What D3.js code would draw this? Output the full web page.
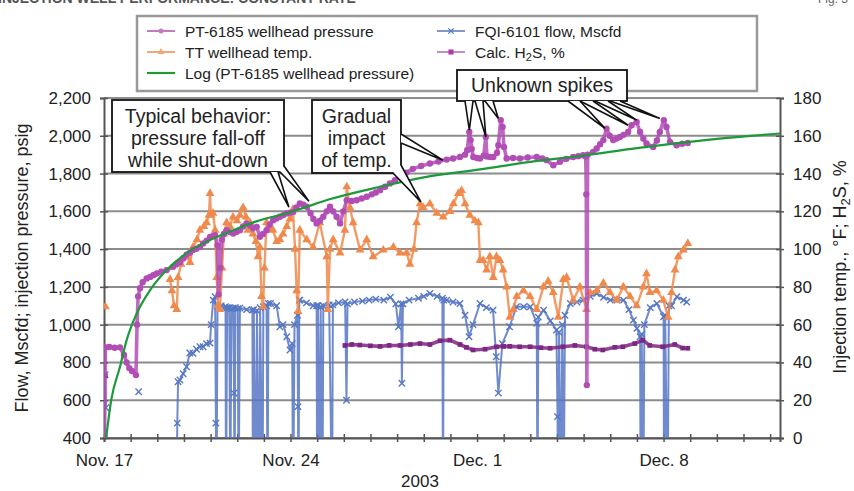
<!DOCTYPE html>
<html>
<head>
<meta charset="utf-8">
<script src="https://cdn.jsdelivr.net/npm/d3@7"></script>
<style>
  body { margin: 0; background: #fff; }
  svg { display: block; font-family: "Liberation Sans", Arial, sans-serif; }
</style>
</head>
<body>
<svg id="chart"></svg>
<script>
// all times are days after Nov. 17, 2003 00:00
// PT-6185 wellhead pressure, psig (left axis)
var pressure = [[0.02,410],[0.05,880],[0.2,882],[0.4,878],[0.6,880],[0.75,840],[0.85,800],[0.95,770],[1.05,755],[1.2,733],
  [1.24,1000],[1.28,1150],[1.35,1193],[1.45,1225],[1.6,1245],[1.73,1253],[1.85,1262],[1.98,1271],[2.15,1280],[2.35,1289],
  [2.59,1306],[2.7,1318],[2.85,1330],[2.98,1352],[3.1,1370],[3.22,1380],[3.34,1395],[3.47,1402],[3.6,1412],[3.72,1430],
  [3.85,1445],[3.98,1465],[4.1,1470],[4.17,1474],[4.26,1420],[4.3,1160],[4.36,1300],[4.42,1450],[4.5,1480],[4.6,1500],
  [4.72,1490],[4.85,1483],[4.98,1492],[5.1,1500],[5.22,1520],[5.35,1536],[5.48,1525],[5.6,1510],[5.73,1518],[5.85,1465],
  [5.97,1480],[6.1,1500],[6.22,1530],[6.35,1553],[6.47,1562],[6.6,1571],[6.73,1580],[6.86,1589],[6.98,1593],[7.1,1597],
  [7.22,1620],[7.35,1642],[7.48,1635],[7.61,1624],[7.75,1590],[7.86,1560],[7.98,1536],[8.1,1550],[8.23,1571],[8.36,1600],
  [8.48,1624],[8.6,1600],[8.73,1571],[8.86,1536],[8.98,1600],[9.11,1659],[9.3,1655],[9.48,1659],[9.67,1668],[9.86,1677],
  [10.05,1690],[10.2,1700],[10.36,1712],[10.55,1730],[10.73,1748],[10.92,1765],[11.11,1780],[11.35,1805],[11.59,1825],
  [11.9,1840],[12.23,1853],[12.55,1864],[12.86,1874],[13.1,1880],[13.36,1888],[13.55,1900],[13.63,1924],[13.71,2020],
  [13.76,1977],[13.8,1930],[13.86,1888],[14.0,1882],[14.11,1880],[14.25,1895],[14.33,1994],[14.37,1890],[14.5,1888],
  [14.61,1888],[14.75,1910],[14.8,1950],[14.89,2083],[14.96,2047],[15.01,1941],[15.11,1880],[15.35,1882],[15.61,1880],
  [15.9,1885],[16.24,1888],[16.45,1880],[16.61,1871],[16.86,1844],[17.11,1862],[17.35,1878],[17.61,1888],[17.8,1892],
  [17.98,1897],[18.08,1890],[18.1,1690],[18.12,680],[18.15,1900],[18.36,1915],[18.49,1933],[18.62,1955],[18.74,1977],
  [18.86,2038],[18.98,2000],[19.11,1977],[19.24,1985],[19.36,1994],[19.5,2005],[19.67,2020],[19.8,2056],[19.99,2073],
  [20.12,2020],[20.24,1985],[20.36,1959],[20.61,1941],[20.75,1975],[20.86,2020],[21.01,2083],[21.11,2047],[21.24,1968],
  [21.49,1950],[21.7,1958],[21.91,1962]];

// TT wellhead temp., deg F (right axis)
var temp = [[0.05,69.5],[0.3,null],
  [2.48,84],[2.55,78],[2.63,70],[2.73,68],[2.78,85],[2.89,92],[3.1,96],[3.23,93],[3.34,101],[3.49,105],[3.6,110],[3.75,112],
  [3.85,114],[3.94,118],[3.98,129.5],[4.01,118],[4.09,119],[4.17,110],[4.23,85],[4.28,70],[4.35,68],[4.43,90],[4.5,108],
  [4.6,114],[4.73,112],[4.84,117],[4.99,115],[5.1,118],[5.22,122],[5.33,117],[5.4,110],[5.48,114],[5.59,108],[5.7,104],
  [5.78,96],[5.85,101],[5.91,75],[5.97,69.5],[6.02,90],[6.1,114],[6.23,111],[6.34,110],[6.48,104],[6.6,105],[6.72,108],
  [6.86,112],[6.98,116],[7.09,121],[7.17,100],[7.23,78],[7.28,67],[7.35,110],[7.61,105],[7.85,101],[8.1,114],[8.36,96],
  [8.4,68],[8.48,100],[8.6,105],[8.86,98],[9.04,110],[9.11,133],[9.23,122],[9.35,114],[9.61,99.5],[9.86,105],[10.1,96],
  [10.48,99.5],[10.86,101],[11.11,98],[11.36,98],[11.48,92],[11.63,100],[11.73,114],[11.86,124],[11.98,122],[12.23,124],
  [12.49,119],[12.73,117],[12.98,120],[13.11,124],[13.3,129.5],[13.42,131],[13.55,124],[13.73,118],[13.92,115],[14.05,114],
  [14.11,94],[14.23,94],[14.36,89],[14.48,96],[14.61,85],[14.73,96],[14.86,94],[14.98,89],[15.11,80],[15.23,64],[15.36,68],
  [15.49,75],[15.74,78],[15.99,75],[16.24,68],[16.49,80],[16.67,83],[16.86,77],[17.05,64],[17.24,84],[17.36,85],[17.61,73],
  [17.86,80],[18.11,68],[18.24,77],[18.49,78],[18.74,82],[18.99,77],[19.24,73],[19.49,80],[19.74,75],[19.99,70],[20.24,80],
  [20.36,87],[20.49,77],[20.74,78],[20.99,73],[21.17,64],[21.3,77],[21.43,89],[21.55,96],[21.74,99.5],[21.91,103]];

// FQI-6101 flow, Mscfd (left axis); 0 = flow stopped
var flow = [[0.04,735],[0.07,560],[0.5,null],[1.3,645],[1.5,null],
  [2.72,0],[2.75,479],[2.78,698],[2.85,707],[2.97,740],[3.1,777],[3.22,850],[3.34,848],[3.47,870],[3.6,883],[3.72,883],
  [3.85,900],[3.98,902],[4.02,1000],[4.1,1130],[4.17,1148],[4.2,479],[4.22,0],[4.26,1100],[4.4,1100],[4.56,1095],[4.58,0],
  [4.62,1090],[4.7,1090],[4.74,0],[4.78,1085],[4.85,1088],[4.88,638],[4.9,0],[4.93,1090],[5.02,1085],[5.05,0],[5.1,1088],
  [5.35,1080],[5.57,1077],[5.59,0],[5.62,1080],[5.71,0],[5.74,1075],[5.83,0],[5.86,1090],[5.95,0],[5.98,1095],[6.1,1100],
  [6.14,0],[6.17,1112],[6.25,1112],[6.48,1100],[6.6,989],[6.72,1000],[6.86,936],[6.98,866],[7.06,900],[7.1,0],[7.15,1000],
  [7.26,1050],[7.28,566],[7.3,0],[7.33,1130],[7.35,1130],[7.6,1115],[7.85,1100],[7.98,1100],[8.0,0],[8.03,1100],[8.1,0],
  [8.13,1095],[8.2,0],[8.23,1100],[8.45,1105],[8.56,0],[8.59,1105],[8.8,1115],[9.05,1120],[9.1,600],[9.14,1110],[9.4,1120],
  [9.7,1125],[9.95,1130],[10.2,1135],[10.5,1130],[10.75,1145],[10.95,1110],[11.05,989],[11.15,1110],[11.18,690],[11.22,1110],
  [11.45,1130],[11.8,1140],[12.0,1150],[12.23,1165],[12.5,1150],[12.7,1140],[12.72,0],[12.75,1130],[12.86,1130],[13.1,1120],
  [13.36,1112],[13.55,1050],[13.7,936],[13.85,1000],[14.11,1112],[14.35,1090],[14.6,1077],[14.72,830],[14.8,638],[14.95,900],
  [15.22,989],[15.48,1095],[15.75,1095],[16.0,1095],[16.24,1007],[16.27,0],[16.3,1040],[16.5,1077],[16.75,1020],[16.98,971],
  [17.02,513],[17.05,0],[17.08,960],[17.15,0],[17.2,1000],[17.25,0],[17.3,1050],[17.5,1112],[17.75,1120],[17.98,1130],
  [18.25,1150],[18.49,1165],[18.75,1145],[19.0,1130],[19.25,1130],[19.5,1130],[19.7,1080],[19.87,1024],[20.0,980],[20.12,936],
  [20.14,0],[20.18,950],[20.24,0],[20.28,1000],[20.5,1090],[20.75,1112],[21.0,1042],[21.02,0],[21.06,1050],[21.15,0],
  [21.2,1100],[21.3,1100],[21.5,1148],[21.75,1130],[21.87,1120]];

// Calc. H2S, % (right axis)
var h2s = [[0.05,33],[0.3,null],
  [9.04,49],[9.3,49.5],[9.6,49.2],[10.0,48.8],[10.36,48.5],[10.7,49],[11.11,49],[11.5,49.5],[11.86,50],[12.23,49.5],
  [12.61,51.5],[12.98,51.8],[13.36,49.5],[13.6,48],[13.85,46.6],[14.3,47],[14.73,48.3],[15.0,48.5],[15.23,48.5],[15.6,48.3],
  [15.99,48.3],[16.4,47.8],[16.74,47.5],[17.22,48.3],[17.67,49],[18.11,48.3],[18.42,47],[18.72,46.6],[19.17,48],[19.47,48.3],
  [19.92,50],[20.22,51.8],[20.48,49],[20.97,48.3],[21.42,49.5],[21.72,47.6],[21.91,47.5]];

// Log (PT-6185 wellhead pressure) trend line, psig (left axis)
var logFit = [[0.08,400],[0.27,600],[0.6,777],[0.85,918],[1.23,1060],[1.73,1183],[2.35,1289],[3.1,1379],[3.98,1448],
  [4.85,1500],[5.85,1553],[6.86,1590],[7.35,1612],[8.5,1665],[10.36,1730],[12.0,1780],[14.11,1822],[16.0,1862],
  [17.86,1893],[20.0,1935],[21.61,1962],[23.5,1990],[25.37,2012]];

var leftTicks = [400, 600, 800, 1000, 1200, 1400, 1600, 1800, 2000, 2200];
var rightTicks = [0, 20, 40, 60, 80, 100, 120, 140, 160, 180];
var dateLabels = {0: "Nov. 17", 7: "Nov. 24", 14: "Dec. 1", 21: "Dec. 8"};

var colors = {pressure: "#b24db6", temp: "#f08a4c", flow: "#5677c4", h2s: "#7e2683", log: "#1c9a3a"};

var W = 854, H = 491;
var svg = d3.select("#chart").attr("width", W).attr("height", H);

var x = d3.scaleLinear().domain([0, 25.37]).range([104, 780]);
var yL = d3.scaleLinear().domain([400, 2200]).range([438, 98]);
var yR = d3.scaleLinear().domain([0, 180]).range([438, 98]);

// title strip and figure number, cut at the top edge as in the source
svg.append("text").attr("x", -2).attr("y", 3).style("font-size", "14px").style("font-weight", "bold")
  .attr("fill", "#555").text("INJECTION WELL PERFORMANCE: CONSTANT RATE");
svg.append("text").attr("x", 818).attr("y", 3).style("font-size", "12px").attr("fill", "#666").text("Fig. 3");

//gridlines
svg.append("g").selectAll("line").data(leftTicks).enter().append("line")
  .attr("x1", 104).attr("x2", 780)
  .attr("y1", function (d) {return yL(d)}).attr("y2", function (d) {return yL(d)})
  .style("stroke", "#8c8c8c").style("stroke-width", 2);

//axes
var axL = svg.append("g").attr("transform", "translate(104,0)")
  .call(d3.axisLeft(yL).tickValues(leftTicks).tickSize(4).tickPadding(9).tickFormat(d3.format(",")));
var axR = svg.append("g").attr("transform", "translate(780,0)")
  .call(d3.axisRight(yR).tickValues(rightTicks).tickSize(4).tickPadding(9));
var axB = svg.append("g").attr("transform", "translate(0,438)")
  .call(d3.axisBottom(x).tickValues(d3.range(0, 26)).tickSize(4).tickPadding(12)
    .tickFormat(function (d) {return dateLabels[d] || ""}));

[axL, axR, axB].forEach(function (a) {
  a.select(".domain").attr("stroke", "#555").attr("stroke-width", 2);
  a.selectAll(".tick line").attr("stroke", "#555").attr("stroke-width", 1.5);
  a.selectAll("text").attr("fill", "#222").style("font-size", "17px").style("font-family", "Liberation Sans, Arial, sans-serif");
});
//ticks cross the axis lines
axL.selectAll(".tick line").attr("x1", 4).attr("x2", -4);
axR.selectAll(".tick line").attr("x1", -4).attr("x2", 4);
axB.selectAll(".tick line").attr("y1", -4).attr("y2", 4);

svg.append("text").attr("x", 420).attr("y", 487).attr("text-anchor", "middle")
  .style("font-size", "17px").attr("fill", "#222").text("2003");

svg.append("text").attr("transform", "translate(28,268) rotate(-90)").attr("text-anchor", "middle")
  .style("font-size", "18px").attr("fill", "#222").text("Flow, Mscfd; injection pressure, psig");

var rt = svg.append("text").attr("transform", "translate(846,267) rotate(-90)").attr("text-anchor", "middle")
  .style("font-size", "18px").attr("fill", "#222");
rt.append("tspan").text("Injection temp., \u00b0F; H");
rt.append("tspan").attr("dy", 4).style("font-size", "13px").text("2");
rt.append("tspan").attr("dy", -4).text("S, %");

// plot area clip
svg.append("clipPath").attr("id", "plot").append("rect")
  .attr("x", 104).attr("y", 97).attr("width", 676).attr("height", 341);
var plot = svg.append("g").attr("clip-path", "url(#plot)");

function drawSeries(data, yScale, color, width, marker) {
  var line = d3.line()
    .defined(function (d) {return d[1] != null})
    .x(function (d) {return x(d[0])})
    .y(function (d) {return yScale(d[1])});
  plot.append("path").datum(data).attr("d", line)
    .style("fill", "none").style("stroke", color).style("stroke-width", width)
    .style("stroke-linejoin", "round").style("opacity", 0.85);
  var pts = data.filter(function (d) {return d[1] != null});
  var sym = plot.append("g").selectAll("path").data(pts).enter().append("path")
    .attr("transform", function (d) {return "translate(" + x(d[0]) + "," + yScale(d[1]) + ")"})
    .attr("d", d3.symbol().type(marker.type).size(marker.size)());
  if (marker.stroke) sym.style("fill", "none").style("stroke", color).style("stroke-width", 1.4);
  else sym.style("fill", color);
}

var timesSym = d3.symbolTimes || d3.symbolCross;

drawSeries(flow, yL, colors.flow, 2, {type: timesSym, size: 28, stroke: true});
drawSeries(h2s, yR, colors.h2s, 3.6, {type: d3.symbolSquare, size: 22});
drawSeries(temp, yR, colors.temp, 2.4, {type: d3.symbolTriangle, size: 34});
drawSeries(pressure, yL, colors.pressure, 3.6, {type: d3.symbolCircle, size: 32});

plot.append("path").datum(logFit)
  .attr("d", d3.line().curve(d3.curveMonotoneX)
    .x(function (d) {return x(d[0])}).y(function (d) {return yL(d[1])}))
  .style("fill", "none").style("stroke", colors.log).style("stroke-width", 2.2);

// legend
var legend = svg.append("g");
legend.append("rect").attr("x", 137).attr("y", 16).attr("width", 620).attr("height", 75)
  .style("fill", "#fff").style("stroke", "#999").style("stroke-width", 2.5);

var legendItems = [
  {label: "PT-6185 wellhead pressure", color: "#c37ac4", mark: d3.symbolCircle, col: 0, row: 0},
  {label: "TT wellhead temp.", color: "#f0a878", mark: d3.symbolTriangle, col: 0, row: 1},
  {label: "Log (PT-6185 wellhead pressure)", color: colors.log, mark: null, col: 0, row: 2},
  {label: "FQI-6101 flow, Mscfd", color: "#8298c8", mark: timesSym, col: 1, row: 0},
  {label: "Calc. H2S, %", color: "#c58fc6", mark: d3.symbolSquare, col: 1, row: 1}
];
var colX = [147, 437], rowY = [31, 52, 73];
legendItems.forEach(function (it) {
  var lx = colX[it.col], ly = rowY[it.row];
  legend.append("line").attr("x1", lx).attr("x2", lx + 28).attr("y1", ly).attr("y2", ly)
    .style("stroke", it.color).style("stroke-width", it.mark ? 2 : 2.2);
  if (it.mark) {
    var m = legend.append("path").attr("transform", "translate(" + (lx + 14) + "," + ly + ")")
      .attr("d", d3.symbol().type(it.mark).size(it.mark === d3.symbolSquare ? 26 : 20)());
    if (it.mark === timesSym) m.style("fill", "none").style("stroke", "#5677c4").style("stroke-width", 1.3);
    else if (it.mark === d3.symbolSquare) m.style("fill", "#b43aa8");
    else m.style("fill", it.color);
  }
  var t = legend.append("text").attr("x", lx + 38).attr("y", ly + 5.5)
    .style("font-size", "15.5px").attr("fill", "#222");
  if (it.label.indexOf("H2S") >= 0) {
    t.append("tspan").text("Calc. H");
    t.append("tspan").attr("dy", 3.5).style("font-size", "11px").text("2");
    t.append("tspan").attr("dy", -3.5).text("S, %");
  } else {
    t.text(it.label);
  }
});

// callouts
function callout(box, lines, pointers) {
  var g = svg.append("g");
  g.append("rect").attr("x", box.x).attr("y", box.y).attr("width", box.w).attr("height", box.h)
    .style("fill", "#fff").style("stroke", "#111").style("stroke-width", 1.8);
  pointers.forEach(function (p) {
    g.append("path").attr("d", "M" + p.a[0] + "," + p.a[1] + "L" + p.tip[0] + "," + p.tip[1] + "L" + p.b[0] + "," + p.b[1])
      .style("fill", "#fff").style("stroke", "#111").style("stroke-width", 1.6).style("stroke-linejoin", "miter");
  });
  lines.forEach(function (s, i) {
    g.append("text").attr("x", box.x + box.w / 2).attr("y", box.y + box.pad + i * 22)
      .attr("text-anchor", "middle").style("font-size", "19.5px").attr("fill", "#222").text(s);
  });
}

callout({x: 112, y: 100, w: 172, h: 72, pad: 23}, ["Typical behavior:", "pressure fall-off", "while shut-down"], [
  {a: [270, 172], tip: [x(6.94), yL(1622)], b: [278, 172]},
  {a: [280, 172], tip: [x(7.69), yL(1654)], b: [284, 166]}
]);
callout({x: 312, y: 100, w: 89, h: 73, pad: 23}, ["Gradual", "impact", "of temp."], [
  {a: [401, 134], tip: [x(12.72), yL(1871)], b: [401, 143]},
  {a: [393, 173], tip: [x(11.89), yR(125)], b: [401, 165]}
]);
callout({x: 457, y: 70, w: 170, h: 31, pad: 22}, ["Unknown spikes"], [
  {a: [465, 101], tip: [x(13.71), yL(2030)], b: [473, 101]},
  {a: [475, 101], tip: [x(14.33), yL(1994)], b: [483, 101]},
  {a: [485, 101], tip: [x(14.8), yL(2092)], b: [493, 101]},
  {a: [568, 101], tip: [x(18.8), yL(2039)], b: [580, 101]},
  {a: [580, 101], tip: [x(19.67), yL(2056)], b: [593, 101]},
  {a: [595, 101], tip: [x(19.99), yL(2083)], b: [608, 101]},
  {a: [610, 101], tip: [x(20.86), yL(2092)], b: [620, 101]}
]);
</script>
</body>
</html>
